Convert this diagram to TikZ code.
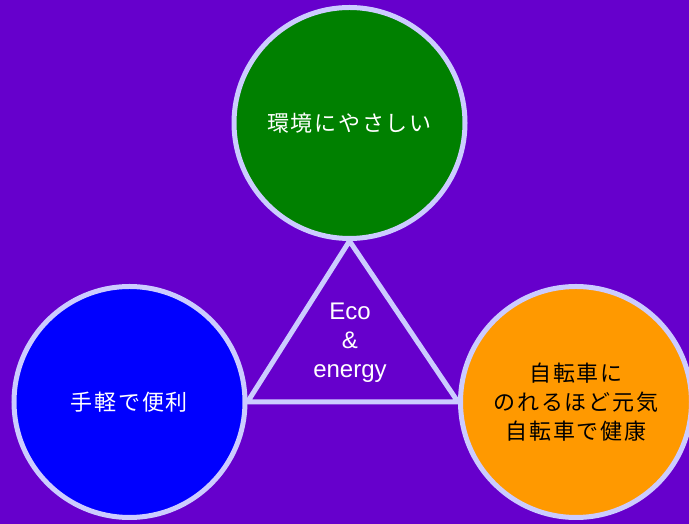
\documentclass[tikz,border=0pt]{standalone}
\usepackage{fontspec}
\setmainfont{Liberation Sans}
\newfontfamily\jpfont[LetterSpace=8]{Noto Sans CJK JP}
\definecolor{bgpurple}{HTML}{6600CC}
\definecolor{ringc}{HTML}{CCCCFF}
\definecolor{greenc}{HTML}{008000}
\definecolor{bluec}{HTML}{0000FF}
\definecolor{orangec}{HTML}{FF9900}
\tikzset{
  bubble/.style={circle, draw=ringc, line width=5pt, minimum size=231pt, inner sep=0pt,
    align=center, font=\jpfont\fontsize{22pt}{29pt}\selectfont},
  link/.style={draw=ringc, line width=5pt, line join=miter},
  core/.style={align=center, text=white, font=\fontsize{24pt}{29pt}\selectfont}
}
\begin{document}
\begin{tikzpicture}[x=1pt,y=1pt]
\fill[bgpurple] (0,0) rectangle (689,524);
\useasboundingbox (0,0) rectangle (689,524);
\node[bubble, fill=greenc, text=white] (eco) at (349.5,401) {環境にやさしい};
\node[bubble, fill=bluec, text=white] (easy) at (129.5,122) {手軽で便利};
\node[bubble, fill=orangec, text=black] (health) at (576,122) {自転車に\\のれるほど元気\\自転車で健康};
\draw[link] (eco.south) -- (easy.east) -- (health.west) -- cycle;
\node[core] (center) at (350,181) {Eco\\\&\\energy};
\end{tikzpicture}
\end{document}
